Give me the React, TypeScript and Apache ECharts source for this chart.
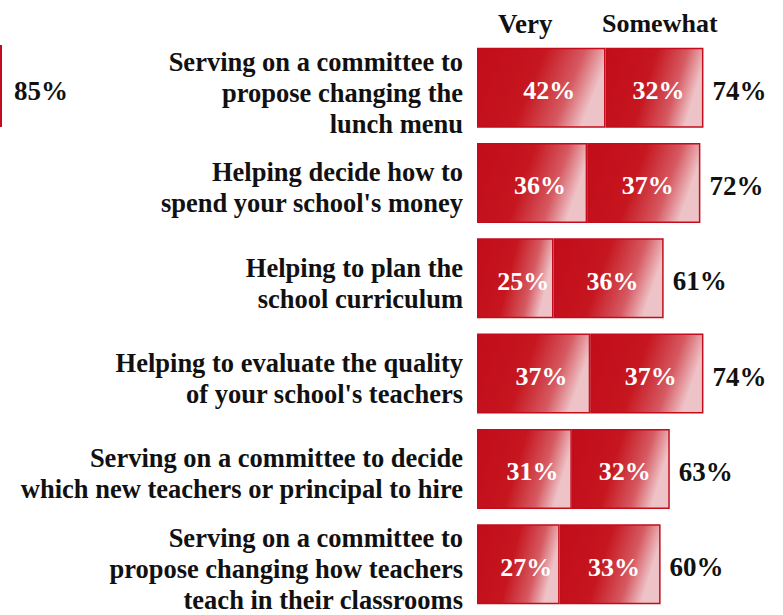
import React, { useEffect, useRef } from "react";
import * as echarts from "echarts";

const categories = [
  "Serving on a committee to\npropose changing the\nlunch menu",
  "Helping decide how to\nspend your school's money",
  "Helping to plan the\nschool curriculum",
  "Helping to evaluate the quality\nof your school's teachers",
  "Serving on a committee to decide\nwhich new teachers or principal to hire",
  "Serving on a committee to\npropose changing how teachers\nteach in their classrooms",
];
const veryValues = [42, 36, 25, 37, 31, 27];
const somewhatValues = [32, 37, 36, 37, 32, 33];
const totalValues = [74, 72, 61, 74, 63, 60];
const seriesNames = ["Very", "Somewhat"];
const sideValue = "85%";

const RED = "#c30d1c";
const FONT = "'Liberation Serif', 'Times New Roman', serif";

const grad = () =>
  new echarts.graphic.LinearGradient(0, 0, 1, 0.25, [
    { offset: 0, color: "#c20c1b" },
    { offset: 0.5, color: "#c6161f" },
    { offset: 0.8, color: "#d65a62" },
    { offset: 1, color: "#eec3c7" },
  ]);

const labelFont = {
  fontSize: 26.5,
  lineHeight: 31,
  fontWeight: "bold" as const,
  fontFamily: FONT,
  color: "#111111",
  align: "right" as const,
};

export default function App() {
  const ref = useRef<HTMLDivElement>(null);
  useEffect(() => {
    if (!ref.current) return;
    const chart = echarts.init(ref.current, null, { renderer: "svg" });
    const stackEnds = veryValues.map((v, i) => v + somewhatValues[i]);
    chart.setOption({
      animation: false,
      backgroundColor: "#ffffff",
      grid: { left: 477, top: 40, width: 310, height: 580, containLabel: false },
      xAxis: {
        type: "value",
        min: 0,
        max: 100,
        show: false,
      },
      yAxis: {
        type: "category",
        data: categories,
        inverse: true,
        axisLine: { show: false },
        axisTick: { show: false },
        axisLabel: {
          margin: 14,
          ...labelFont,
          formatter: (v: string) =>
            "{s| }\n" +
            v
              .split("\n")
              .map((s) => `{a|${s}}`)
              .join("\n"),
          rich: {
            s: { fontSize: 2, lineHeight: 10 },
            a: { ...labelFont },
          },
        },
      },
      graphic: [
        {
          type: "text",
          left: 498,
          top: 10,
          style: {
            text: seriesNames[0],
            fontSize: 27,
            fontWeight: "bold",
            fontFamily: FONT,
            fill: "#111111",
          },
        },
        {
          type: "text",
          left: 602,
          top: 10,
          style: {
            text: seriesNames[1],
            fontSize: 26,
            fontWeight: "bold",
            fontFamily: FONT,
            fill: "#111111",
          },
        },
        {
          type: "rect",
          shape: { x: -2, y: 45, width: 4, height: 82 },
          style: { fill: RED },
        },
        {
          type: "text",
          left: 14,
          top: 77,
          style: {
            text: sideValue,
            fontSize: 27,
            fontWeight: "bold",
            fontFamily: FONT,
            fill: "#111111",
          },
        },
      ],
      series: [
        {
          name: seriesNames[0],
          type: "bar",
          stack: "total",
          barWidth: 80,
          data: veryValues,
          itemStyle: { color: grad(), borderColor: RED, borderWidth: 1.5 },
          label: {
            show: true,
            position: "inside",
            offset: [8, 3],
            formatter: "{c}%",
            color: "#ffffff",
            fontSize: 26,
            fontWeight: "bold",
            fontFamily: FONT,
          },
        },
        {
          name: seriesNames[1],
          type: "bar",
          stack: "total",
          barWidth: 80,
          data: somewhatValues,
          itemStyle: { color: grad(), borderColor: RED, borderWidth: 1.5 },
          label: {
            show: true,
            position: "inside",
            offset: [4, 3],
            formatter: "{c}%",
            color: "#ffffff",
            fontSize: 26,
            fontWeight: "bold",
            fontFamily: FONT,
          },
        },
        {
          name: "Total",
          type: "bar",
          barWidth: 80,
          barGap: "-100%",
          z: 1,
          silent: true,
          data: stackEnds,
          itemStyle: { color: "rgba(0,0,0,0)" },
          label: {
            show: true,
            position: "right",
            distance: 9,
            offset: [0, 3],
            formatter: (p: any) => totalValues[p.dataIndex] + "%",
            color: "#111111",
            fontSize: 27,
            fontWeight: "bold",
            fontFamily: FONT,
          },
        },
      ],
    });
    return () => chart.dispose();
  }, []);
  return (
    <div
      ref={ref}
      style={{ position: "fixed", left: 0, top: 0, width: 783, height: 615 }}
    />
  );
}
